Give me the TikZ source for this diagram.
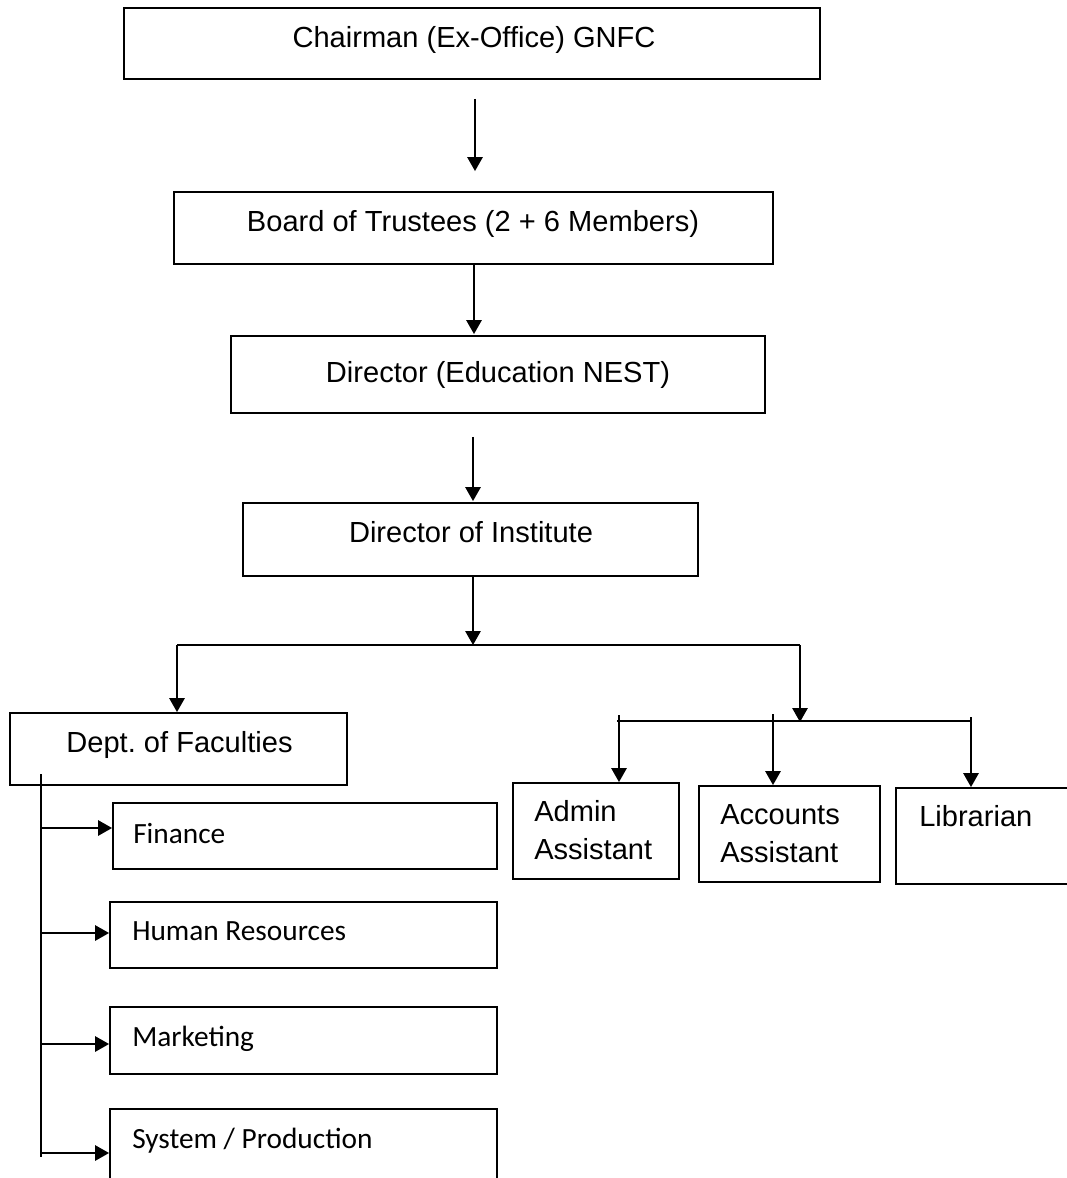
\documentclass[tikz,border=0pt]{standalone}
\usepackage{fontspec}
\setmainfont{Liberation Sans}
\newfontfamily\calfont{Carlito}
\usetikzlibrary{arrows.meta,calc}
\frenchspacing
\begin{document}
\frenchspacing
\begin{tikzpicture}[x=0.75pt,y=-0.75pt,
  box/.style={draw, line width=1.4pt, inner sep=0pt, rectangle},
  lbl/.style={font=\fontsize{21.8}{26}\selectfont, inner sep=0pt, anchor=base},
  lblw/.style={font=\fontsize{21.8}{26}\selectfont, inner sep=0pt, anchor=base west},
  cal/.style={font=\calfont\fontsize{22}{26}\selectfont, inner sep=0pt, anchor=base west},
  conn/.style={line width=1.4pt},
  arr/.style={conn, -{Triangle[width=11.5pt,length=10.5pt]}}]
\useasboundingbox (0,0) rectangle (1067,1178);

% boxes
\node[box, minimum width=522pt,    minimum height=53.25pt] (chair)    at (472,43.5)   {};
\node[box, minimum width=449.25pt, minimum height=54pt]    (board)    at (473.5,228)  {};
\node[box, minimum width=400.5pt,  minimum height=57.75pt] (dirnest)  at (498,374.5)  {};
\node[box, minimum width=341.25pt, minimum height=54.75pt] (dirinst)  at (470.5,539.5){};
\node[box, minimum width=252.75pt, minimum height=54pt]    (dept)     at (178.5,749)  {};
\node[box, minimum width=124.5pt,  minimum height=72pt]    (admin)    at (596,831)    {};
\node[box, minimum width=135.75pt, minimum height=72pt]    (accounts) at (789.5,834)  {};
\node[box, minimum width=145.5pt,  minimum height=72pt]    (lib)      at (993,836)    {};
\node[box, minimum width=288pt,    minimum height=49.5pt]  (finance)  at (305,836)    {};
\node[box, minimum width=290.25pt, minimum height=49.5pt]  (hr)       at (303.5,935)  {};
\node[box, minimum width=290.25pt, minimum height=50.25pt] (mkt)      at (303.5,1040.5){};
\node[box, minimum width=290.25pt, minimum height=60pt]    (sys)      at (303.5,1149) {};

% texts
\node[lbl] (tchair)   at (474,47)    {Chairman (Ex-Office) GNFC};
\node[lbl] (tboard)   at (473,231)   {Board of Trustees (2 + 6 Members)};
\node[lbl] (tdirnest) at (498,382)   {Director (Education NEST)};
\node[lbl] (tdirinst) at (471,542)   {Director of Institute};
\node[lbl] (tdept)    at (179.5,752) {Dept.\ of Faculties};
\node[lblw] (tadmin1) at (534,821)   {Admin};
\node[lblw] (tadmin2) at (534,859)   {Assistant};
\node[lblw] (tacc1)   at (720,824)   {Accounts};
\node[lblw] (tacc2)   at (720,862)   {Assistant};
\node[lblw] (tlib)    at (919,826)   {Librarian};
\node[cal] (tfin)     at (133,843)   {Finance};
\node[cal] (thr)      at (132,940)   {Human Resources};
\node[cal] (tmkt)     at (132,1046)  {Marketing};
\node[cal] (tsys)     at (132,1148)  {System / Production};

% top chain
\draw[arr] ($(chair.south)+(3,19)$) -- ($(board.north)+(1.5,-20)$);
\draw[arr] ($(board.south)+(0.5,0)$) -- ($(dirnest.north)+(-24,-1)$);
\draw[arr] ($(dirnest.south)+(-25,23)$) -- ($(dirinst.north)+(2.5,-1)$);

\coordinate (hl) at (177,645);
\coordinate (hr0) at (800,645);
\coordinate (hub) at (473,645);
\draw[arr] ($(dirinst.south)+(2.5,0)$) -- (hub);
\draw[conn] (hl) -- (hr0);
\draw[arr] (hl) -- (hl |- dept.north);
\coordinate (rtip) at (800,722);
\draw[arr] (hr0) -- (rtip);

% right group
\coordinate (bl) at (617,721);
\coordinate (br) at (971,721);
\draw[conn] (bl) -- (br);
\coordinate (a1) at (619,715);
\coordinate (a2) at (773,714);
\coordinate (a3) at (971,717);
\draw[arr] (a1) -- (a1 |- admin.north);
\draw[arr] (a2) -- (a2 |- accounts.north);
\draw[arr] (a3) -- (a3 |- lib.north);

% left group
\coordinate (vtop) at (41,774);
\coordinate (vbot) at (41,1157);
\draw[conn] (vtop) -- (vbot);
\coordinate (f1) at (41,828);
\coordinate (f2) at (41,933);
\coordinate (f3) at (41,1044);
\coordinate (f4) at (41,1153);
\draw[arr] (f1) -- (f1 -| finance.west);
\draw[arr] (f2) -- (f2 -| hr.west);
\draw[arr] (f3) -- (f3 -| mkt.west);
\draw[arr] (f4) -- (f4 -| sys.west);
\end{tikzpicture}
\end{document}
